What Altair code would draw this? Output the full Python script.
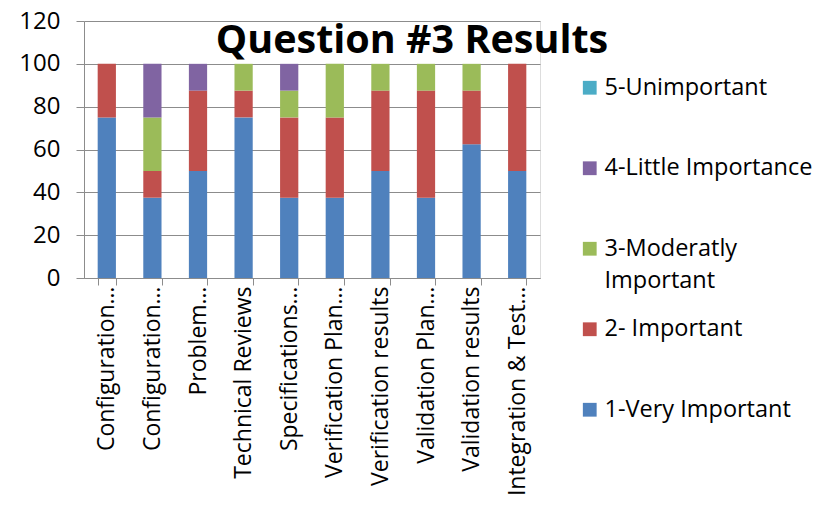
import altair as alt
import pandas as pd

categories = ["Configuration…", "Configuration…", "Problem…", "Technical Reviews",
              "Specifications…", "Verification Plan…", "Verification results",
              "Validation Plan…", "Validation results", "Integration & Test…"]
series_names = ["1-Very Important", "2- Important", "3-Moderatly Important",
                "4-Little Importance", "5-Unimportant"]
very_important = [75, 37.5, 50, 75, 37.5, 37.5, 50, 37.5, 62.5, 50]
important = [25, 12.5, 37.5, 12.5, 37.5, 37.5, 37.5, 50, 25, 50]
moderately_important = [0, 25, 0, 12.5, 12.5, 25, 12.5, 12.5, 12.5, 0]
little_importance = [0, 25, 12.5, 0, 12.5, 0, 0, 0, 0, 0]
unimportant = [0, 0, 0, 0, 0, 0, 0, 0, 0, 0]
colors = ["#4F81BD", "#C0504D", "#9BBB59", "#8064A2", "#4BACC6"]

series_values = [very_important, important, moderately_important, little_importance, unimportant]
rows = []
for s_i, (name, vals) in enumerate(zip(series_names, series_values)):
    for c_i, v in enumerate(vals):
        rows.append({"idx": c_i, "series": name, "order": s_i, "value": v})
df = pd.DataFrame(rows)

# Excel leaves extra room after untruncated labels; mimic with non-breaking spaces
display_labels = [c if c.endswith("…") else c + "\u00a0\u00a0\u00a0" for c in categories]
label_expr = "[" + ",".join("'" + c + "'" for c in display_labels) + "][datum.value]"
legend_expr = ("datum.label == '3-Moderatly Important' ? ['3-Moderatly', 'Important'] "
               ": [datum.label, '']")

FONT = "Open Sans"
GRID = "#8C8C8C"

chart = alt.Chart(df).mark_bar().encode(
    x=alt.X("idx:O", title=None,
            scale=alt.Scale(paddingInner=0.6, paddingOuter=0.3),
            axis=alt.Axis(labelExpr=label_expr, labelAngle=-90, labelFont=FONT,
                          labelFontSize=23, labelColor="black", labelLimit=400,
                          labelPadding=1, tickBand="extent", tickSize=7,
                          tickColor=GRID, domainColor=GRID, grid=False)),
    y=alt.Y("value:Q", title=None, stack="zero",
            scale=alt.Scale(domain=[0, 120]),
            axis=alt.Axis(values=[0, 20, 40, 60, 80, 100, 120], labelFont=FONT,
                          labelFontSize=24, labelColor="black", labelPadding=16,
                          tickSize=8, tickColor=GRID, domainColor=GRID,
                          gridColor=GRID, gridWidth=1, gridOpacity=1)),
    color=alt.Color("series:N",
                    scale=alt.Scale(domain=series_names[::-1], range=colors[::-1]),
                    legend=alt.Legend(title=None, orient="none", legendX=494, legendY=55,
                                      symbolType="square", symbolSize=190,
                                      symbolStrokeWidth=0, labelFont=FONT,
                                      labelFontSize=23.5, labelColor="black",
                                      labelLimit=400, labelOffset=3,
                                      labelExpr=legend_expr, rowPadding=23.5,
                                      padding=0)),
    order=alt.Order("order:Q", sort="ascending"),
).properties(
    width=456, height=257,
    title=alt.TitleParams("Question #3 Results", font=FONT, fontSize=39.5,
                          fontWeight="bold", color="black", anchor="middle",
                          dx=100, dy=56),
    autosize=alt.AutoSizeParams(type="none"),
    padding={"left": 76, "top": 13, "right": 277, "bottom": 219},
).configure_view(stroke=None).configure(
    background="white",
    style={"guide-label": {"lineHeight": 32}},
)

chart.save("out.html", embed_options={"renderer": "svg", "actions": False})
